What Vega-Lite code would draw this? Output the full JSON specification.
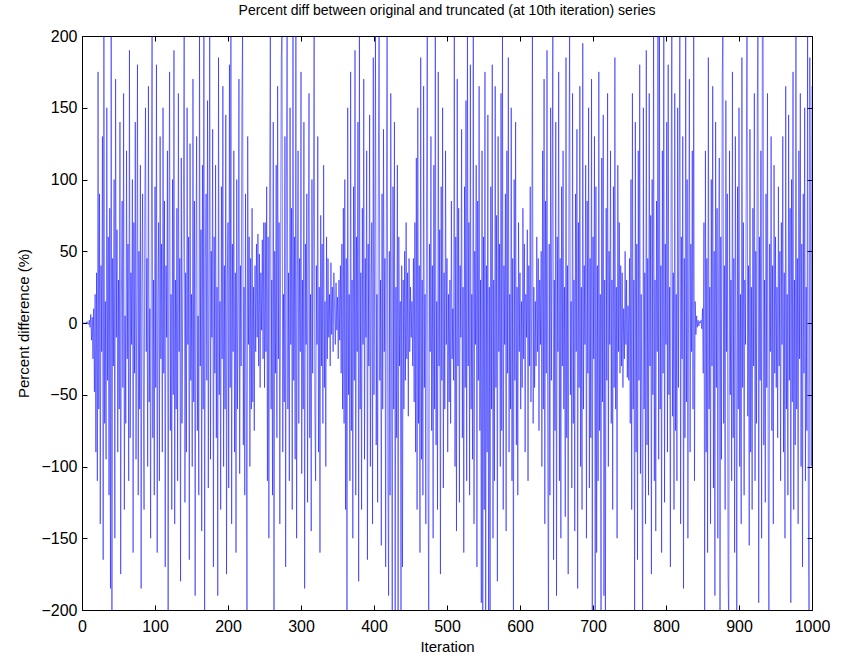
{
  "$schema": "https://vega.github.io/schema/vega-lite/v6.json",
  "width": 730,
  "height": 574,
  "autosize": {"type": "none"},
  "padding": {"left": 82, "top": 36, "right": 36, "bottom": 48},
  "background": "white",
  "config": {
    "font": "Liberation Sans",
    "view": {"stroke": "#000000", "strokeWidth": 1},
    "axis": {"grid": false, "domain": false, "tickColor": "#000000", "tickSize": -5, "labelColor": "#000000", "titleColor": "#000000", "labelFont": "Liberation Sans", "titleFont": "Liberation Sans", "labelFontSize": 16, "titleFontSize": 15, "titleFontWeight": "normal"}
  },
  "title": {"text": "Percent diff between original and truncated (at 10th iteration) series", "fontSize": 14, "fontWeight": "normal", "font": "Liberation Sans", "color": "#000000", "offset": 10},
  "data": {"values": [
{"x":0,"y":0},{"x":1,"y":0},{"x":2,"y":0},{"x":3,"y":0},{"x":4,"y":0},{"x":5,"y":0},{"x":6,"y":0},{"x":7,"y":1},{"x":8,"y":0},{"x":9,"y":-1},
{"x":10,"y":2},{"x":11,"y":-3},{"x":12,"y":6},{"x":13,"y":-12},{"x":14,"y":4},{"x":15,"y":-25},{"x":16,"y":10},{"x":17,"y":-48},{"x":18,"y":20},{"x":19,"y":-90},
{"x":20,"y":35},{"x":21,"y":-110},{"x":22,"y":175},{"x":23,"y":-60},{"x":24,"y":90},{"x":25,"y":-140},{"x":26,"y":40},{"x":27,"y":-20},{"x":28,"y":130},{"x":29,"y":-165},
{"x":30,"y":200},{"x":31,"y":-70},{"x":32,"y":15},{"x":33,"y":-95},{"x":34,"y":150},{"x":35,"y":-40},{"x":36,"y":60},{"x":37,"y":-120},{"x":38,"y":80},{"x":39,"y":-185},
{"x":40,"y":210},{"x":41,"y":-200},{"x":42,"y":45},{"x":43,"y":-30},{"x":44,"y":100},{"x":45,"y":-150},{"x":46,"y":170},{"x":47,"y":-10},{"x":48,"y":65},{"x":49,"y":-90},
{"x":50,"y":30},{"x":51,"y":-60},{"x":52,"y":140},{"x":53,"y":-175},{"x":54,"y":20},{"x":55,"y":85},{"x":56,"y":-45},{"x":57,"y":160},{"x":58,"y":-130},{"x":59,"y":5},
{"x":60,"y":-70},{"x":61,"y":120},{"x":62,"y":-25},{"x":63,"y":55},{"x":64,"y":-110},{"x":65,"y":190},{"x":66,"y":-80},{"x":67,"y":35},{"x":68,"y":-15},{"x":69,"y":100},
{"x":70,"y":-160},{"x":71,"y":70},{"x":72,"y":-35},{"x":73,"y":140},{"x":74,"y":-95},{"x":75,"y":20},{"x":76,"y":180},{"x":77,"y":-120},{"x":78,"y":50},{"x":79,"y":-60},
{"x":80,"y":110},{"x":81,"y":-185},{"x":82,"y":25},{"x":83,"y":90},{"x":84,"y":-40},{"x":85,"y":-130},{"x":86,"y":75},{"x":87,"y":150},{"x":88,"y":-20},{"x":89,"y":45},
{"x":90,"y":-100},{"x":91,"y":165},{"x":92,"y":-55},{"x":93,"y":10},{"x":94,"y":-150},{"x":95,"y":60},{"x":96,"y":210},{"x":97,"y":-80},{"x":98,"y":30},{"x":99,"y":-120},
{"x":100,"y":95},{"x":101,"y":-45},{"x":102,"y":180},{"x":103,"y":-160},{"x":104,"y":15},{"x":105,"y":70},{"x":106,"y":-110},{"x":107,"y":130},{"x":108,"y":-25},{"x":109,"y":55},
{"x":110,"y":-90},{"x":111,"y":150},{"x":112,"y":-35},{"x":113,"y":85},{"x":114,"y":-170},{"x":115,"y":40},{"x":116,"y":-10},{"x":117,"y":120},{"x":118,"y":-205},{"x":119,"y":60},
{"x":120,"y":175},{"x":121,"y":-75},{"x":122,"y":20},{"x":123,"y":-130},{"x":124,"y":100},{"x":125,"y":-50},{"x":126,"y":190},{"x":127,"y":-140},{"x":128,"y":30},{"x":129,"y":-60},
{"x":130,"y":80},{"x":131,"y":-110},{"x":132,"y":160},{"x":133,"y":-20},{"x":134,"y":45},{"x":135,"y":-180},{"x":136,"y":115},{"x":137,"y":-70},{"x":138,"y":10},{"x":139,"y":95},
{"x":140,"y":215},{"x":141,"y":-125},{"x":142,"y":35},{"x":143,"y":-90},{"x":144,"y":150},{"x":145,"y":-15},{"x":146,"y":60},{"x":147,"y":-165},{"x":148,"y":125},{"x":149,"y":-40},
{"x":150,"y":20},{"x":151,"y":-100},{"x":152,"y":170},{"x":153,"y":-55},{"x":154,"y":85},{"x":155,"y":-190},{"x":156,"y":40},{"x":157,"y":130},{"x":158,"y":-75},{"x":159,"y":5},
{"x":160,"y":-120},{"x":161,"y":205},{"x":162,"y":-30},{"x":163,"y":65},{"x":164,"y":-145},{"x":165,"y":110},{"x":166,"y":-60},{"x":167,"y":210},{"x":168,"y":-200},{"x":169,"y":45},
{"x":170,"y":90},{"x":171,"y":-40},{"x":172,"y":155},{"x":173,"y":-115},{"x":174,"y":25},{"x":175,"y":220},{"x":176,"y":-95},{"x":177,"y":50},{"x":178,"y":-10},{"x":179,"y":135},
{"x":180,"y":-170},{"x":181,"y":60},{"x":182,"y":-35},{"x":183,"y":110},{"x":184,"y":-80},{"x":185,"y":25},{"x":186,"y":-190},{"x":187,"y":185},{"x":188,"y":-50},{"x":189,"y":15},
{"x":190,"y":-130},{"x":191,"y":95},{"x":192,"y":-25},{"x":193,"y":165},{"x":194,"y":-100},{"x":195,"y":40},{"x":196,"y":-60},{"x":197,"y":145},{"x":198,"y":-175},{"x":199,"y":30},
{"x":200,"y":70},{"x":201,"y":-115},{"x":202,"y":180},{"x":203,"y":-45},{"x":204,"y":210},{"x":205,"y":-140},{"x":206,"y":55},{"x":207,"y":-20},{"x":208,"y":120},{"x":209,"y":-90},
{"x":210,"y":35},{"x":211,"y":-160},{"x":212,"y":100},{"x":213,"y":-60},{"x":214,"y":15},{"x":215,"y":170},{"x":216,"y":-105},{"x":217,"y":40},{"x":218,"y":-30},{"x":219,"y":150},
{"x":220,"y":205},{"x":221,"y":-85},{"x":222,"y":25},{"x":223,"y":-120},{"x":224,"y":90},{"x":225,"y":-45},{"x":226,"y":-210},{"x":227,"y":130},{"x":228,"y":-15},{"x":229,"y":60},
{"x":230,"y":-100},{"x":231,"y":45},{"x":232,"y":-60},{"x":233,"y":80},{"x":234,"y":-55},{"x":235,"y":25},{"x":236,"y":-75},{"x":237,"y":40},{"x":238,"y":-20},{"x":239,"y":55},
{"x":240,"y":-10},{"x":241,"y":62},{"x":242,"y":-30},{"x":243,"y":48},{"x":244,"y":-45},{"x":245,"y":35},{"x":246,"y":-5},{"x":247,"y":58},{"x":248,"y":-25},{"x":249,"y":70},
{"x":250,"y":-45},{"x":251,"y":70},{"x":252,"y":-20},{"x":253,"y":95},{"x":254,"y":-110},{"x":255,"y":60},{"x":256,"y":-150},{"x":257,"y":85},{"x":258,"y":210},{"x":259,"y":-60},
{"x":260,"y":30},{"x":261,"y":-120},{"x":262,"y":140},{"x":263,"y":-215},{"x":264,"y":50},{"x":265,"y":-35},{"x":266,"y":110},{"x":267,"y":-80},{"x":268,"y":165},{"x":269,"y":-25},
{"x":270,"y":70},{"x":271,"y":-140},{"x":272,"y":40},{"x":273,"y":185},{"x":274,"y":205},{"x":275,"y":-90},{"x":276,"y":20},{"x":277,"y":-55},{"x":278,"y":130},{"x":279,"y":-170},
{"x":280,"y":95},{"x":281,"y":215},{"x":282,"y":-60},{"x":283,"y":35},{"x":284,"y":-110},{"x":285,"y":150},{"x":286,"y":-15},{"x":287,"y":80},{"x":288,"y":-130},{"x":289,"y":225},
{"x":290,"y":-40},{"x":291,"y":60},{"x":292,"y":-95},{"x":293,"y":210},{"x":294,"y":-150},{"x":295,"y":25},{"x":296,"y":120},{"x":297,"y":-70},{"x":298,"y":45},{"x":299,"y":-20},
{"x":300,"y":175},{"x":301,"y":-105},{"x":302,"y":30},{"x":303,"y":-60},{"x":304,"y":140},{"x":305,"y":-185},{"x":306,"y":55},{"x":307,"y":-15},{"x":308,"y":90},{"x":309,"y":-125},
{"x":310,"y":45},{"x":311,"y":160},{"x":312,"y":-80},{"x":313,"y":20},{"x":314,"y":-145},{"x":315,"y":100},{"x":316,"y":-35},{"x":317,"y":70},{"x":318,"y":205},{"x":319,"y":-60},
{"x":320,"y":-110},{"x":321,"y":40},{"x":322,"y":-15},{"x":323,"y":130},{"x":324,"y":-90},{"x":325,"y":25},{"x":326,"y":-160},{"x":327,"y":75},{"x":328,"y":-30},{"x":329,"y":55},
{"x":330,"y":-70},{"x":331,"y":110},{"x":332,"y":-45},{"x":333,"y":15},{"x":334,"y":-100},{"x":335,"y":60},{"x":336,"y":-25},{"x":337,"y":45},{"x":338,"y":-10},{"x":339,"y":20},
{"x":340,"y":-30},{"x":341,"y":42},{"x":342,"y":-8},{"x":343,"y":25},{"x":344,"y":-20},{"x":345,"y":35},{"x":346,"y":10},{"x":347,"y":-15},{"x":348,"y":28},{"x":349,"y":-5},
{"x":350,"y":18},{"x":351,"y":-25},{"x":352,"y":30},{"x":353,"y":-12},{"x":354,"y":40},{"x":355,"y":-35},{"x":356,"y":55},{"x":357,"y":-60},{"x":358,"y":80},{"x":359,"y":-70},
{"x":360,"y":100},{"x":361,"y":-130},{"x":362,"y":45},{"x":363,"y":-220},{"x":364,"y":150},{"x":365,"y":-50},{"x":366,"y":20},{"x":367,"y":-110},{"x":368,"y":175},{"x":369,"y":-75},
{"x":370,"y":30},{"x":371,"y":-150},{"x":372,"y":95},{"x":373,"y":-40},{"x":374,"y":190},{"x":375,"y":-120},{"x":376,"y":60},{"x":377,"y":-20},{"x":378,"y":140},{"x":379,"y":-180},
{"x":380,"y":210},{"x":381,"y":-60},{"x":382,"y":35},{"x":383,"y":-130},{"x":384,"y":80},{"x":385,"y":-15},{"x":386,"y":170},{"x":387,"y":-95},{"x":388,"y":45},{"x":389,"y":-10},
{"x":390,"y":120},{"x":391,"y":-165},{"x":392,"y":55},{"x":393,"y":-30},{"x":394,"y":145},{"x":395,"y":-100},{"x":396,"y":25},{"x":397,"y":70},{"x":398,"y":-140},{"x":399,"y":185},
{"x":400,"y":-50},{"x":401,"y":60},{"x":402,"y":205},{"x":403,"y":-85},{"x":404,"y":20},{"x":405,"y":-125},{"x":406,"y":110},{"x":407,"y":215},{"x":408,"y":-40},{"x":409,"y":30},
{"x":410,"y":-155},{"x":411,"y":90},{"x":412,"y":-60},{"x":413,"y":135},{"x":414,"y":-20},{"x":415,"y":45},{"x":416,"y":-170},{"x":417,"y":80},{"x":418,"y":220},{"x":419,"y":-105},
{"x":420,"y":-190},{"x":421,"y":50},{"x":422,"y":-120},{"x":423,"y":160},{"x":424,"y":-35},{"x":425,"y":-215},{"x":426,"y":95},{"x":427,"y":-60},{"x":428,"y":140},{"x":429,"y":-205},
{"x":430,"y":25},{"x":431,"y":-80},{"x":432,"y":110},{"x":433,"y":-200},{"x":434,"y":60},{"x":435,"y":-30},{"x":436,"y":15},{"x":437,"y":-210},{"x":438,"y":40},{"x":439,"y":-170},
{"x":440,"y":30},{"x":441,"y":-60},{"x":442,"y":50},{"x":443,"y":-40},{"x":444,"y":70},{"x":445,"y":-25},{"x":446,"y":35},{"x":447,"y":-65},{"x":448,"y":45},{"x":449,"y":-20},
{"x":450,"y":25},{"x":451,"y":-10},{"x":452,"y":15},{"x":453,"y":-30},{"x":454,"y":45},{"x":455,"y":-55},{"x":456,"y":70},{"x":457,"y":-90},{"x":458,"y":115},{"x":459,"y":-130},
{"x":460,"y":150},{"x":461,"y":-70},{"x":462,"y":40},{"x":463,"y":-160},{"x":464,"y":185},{"x":465,"y":-95},{"x":466,"y":30},{"x":467,"y":-120},{"x":468,"y":165},{"x":469,"y":-45},
{"x":470,"y":20},{"x":471,"y":-140},{"x":472,"y":90},{"x":473,"y":215},{"x":474,"y":-110},{"x":475,"y":-205},{"x":476,"y":55},{"x":477,"y":-20},{"x":478,"y":130},{"x":479,"y":-75},
{"x":480,"y":40},{"x":481,"y":-150},{"x":482,"y":110},{"x":483,"y":-60},{"x":484,"y":225},{"x":485,"y":-85},{"x":486,"y":15},{"x":487,"y":-130},{"x":488,"y":175},{"x":489,"y":-30},
{"x":490,"y":65},{"x":491,"y":-175},{"x":492,"y":95},{"x":493,"y":-40},{"x":494,"y":150},{"x":495,"y":-115},{"x":496,"y":35},{"x":497,"y":-60},{"x":498,"y":120},{"x":499,"y":-15},
{"x":500,"y":45},{"x":501,"y":-90},{"x":502,"y":20},{"x":503,"y":-55},{"x":504,"y":30},{"x":505,"y":-70},{"x":506,"y":85},{"x":507,"y":-25},{"x":508,"y":10},{"x":509,"y":-40},
{"x":510,"y":210},{"x":511,"y":-100},{"x":512,"y":60},{"x":513,"y":-145},{"x":514,"y":170},{"x":515,"y":-30},{"x":516,"y":80},{"x":517,"y":-125},{"x":518,"y":40},{"x":519,"y":-10},
{"x":520,"y":135},{"x":521,"y":-80},{"x":522,"y":25},{"x":523,"y":-160},{"x":524,"y":95},{"x":525,"y":-45},{"x":526,"y":155},{"x":527,"y":-110},{"x":528,"y":205},{"x":529,"y":-30},
{"x":530,"y":70},{"x":531,"y":-120},{"x":532,"y":180},{"x":533,"y":-60},{"x":534,"y":20},{"x":535,"y":-95},{"x":536,"y":215},{"x":537,"y":-140},{"x":538,"y":50},{"x":539,"y":-15},
{"x":540,"y":110},{"x":541,"y":-170},{"x":542,"y":85},{"x":543,"y":-40},{"x":544,"y":165},{"x":545,"y":-75},{"x":546,"y":30},{"x":547,"y":-195},{"x":548,"y":120},{"x":549,"y":-205},
{"x":550,"y":60},{"x":551,"y":-130},{"x":552,"y":175},{"x":553,"y":-210},{"x":554,"y":40},{"x":555,"y":-90},{"x":556,"y":145},{"x":557,"y":-200},{"x":558,"y":25},{"x":559,"y":-220},
{"x":560,"y":95},{"x":561,"y":-60},{"x":562,"y":180},{"x":563,"y":-150},{"x":564,"y":30},{"x":565,"y":-110},{"x":566,"y":165},{"x":567,"y":-45},{"x":568,"y":75},{"x":569,"y":-180},
{"x":570,"y":130},{"x":571,"y":-20},{"x":572,"y":55},{"x":573,"y":-100},{"x":574,"y":160},{"x":575,"y":-75},{"x":576,"y":215},{"x":577,"y":-130},{"x":578,"y":40},{"x":579,"y":-15},
{"x":580,"y":90},{"x":581,"y":-145},{"x":582,"y":120},{"x":583,"y":-35},{"x":584,"y":185},{"x":585,"y":-90},{"x":586,"y":20},{"x":587,"y":-60},{"x":588,"y":150},{"x":589,"y":-110},
{"x":590,"y":45},{"x":591,"y":-205},{"x":592,"y":100},{"x":593,"y":-40},{"x":594,"y":140},{"x":595,"y":-85},{"x":596,"y":25},{"x":597,"y":-120},{"x":598,"y":70},{"x":599,"y":-20},
{"x":600,"y":35},{"x":601,"y":-60},{"x":602,"y":15},{"x":603,"y":-45},{"x":604,"y":80},{"x":605,"y":-25},{"x":606,"y":55},{"x":607,"y":-90},{"x":608,"y":20},{"x":609,"y":-10},
{"x":610,"y":65},{"x":611,"y":-110},{"x":612,"y":40},{"x":613,"y":-30},{"x":614,"y":95},{"x":615,"y":-55},{"x":616,"y":10},{"x":617,"y":215},{"x":618,"y":-70},{"x":619,"y":25},
{"x":620,"y":-45},{"x":621,"y":15},{"x":622,"y":-30},{"x":623,"y":60},{"x":624,"y":-20},{"x":625,"y":45},{"x":626,"y":-75},{"x":627,"y":30},{"x":628,"y":-15},{"x":629,"y":50},
{"x":630,"y":-100},{"x":631,"y":120},{"x":632,"y":-60},{"x":633,"y":170},{"x":634,"y":-140},{"x":635,"y":85},{"x":636,"y":-35},{"x":637,"y":190},{"x":638,"y":-90},{"x":639,"y":-215},
{"x":640,"y":55},{"x":641,"y":-120},{"x":642,"y":150},{"x":643,"y":-40},{"x":644,"y":80},{"x":645,"y":205},{"x":646,"y":-165},{"x":647,"y":30},{"x":648,"y":-75},{"x":649,"y":140},
{"x":650,"y":-190},{"x":651,"y":60},{"x":652,"y":-20},{"x":653,"y":175},{"x":654,"y":-110},{"x":655,"y":45},{"x":656,"y":-150},{"x":657,"y":95},{"x":658,"y":-30},{"x":659,"y":120},
{"x":660,"y":-60},{"x":661,"y":25},{"x":662,"y":-135},{"x":663,"y":185},{"x":664,"y":-80},{"x":665,"y":40},{"x":666,"y":-175},{"x":667,"y":100},{"x":668,"y":210},{"x":669,"y":-50},
{"x":670,"y":15},{"x":671,"y":-115},{"x":672,"y":160},{"x":673,"y":-70},{"x":674,"y":30},{"x":675,"y":-145},{"x":676,"y":90},{"x":677,"y":-20},{"x":678,"y":135},{"x":679,"y":-185},
{"x":680,"y":70},{"x":681,"y":-45},{"x":682,"y":165},{"x":683,"y":-100},{"x":684,"y":25},{"x":685,"y":-130},{"x":686,"y":195},{"x":687,"y":-60},{"x":688,"y":40},{"x":689,"y":-15},
{"x":690,"y":110},{"x":691,"y":-150},{"x":692,"y":85},{"x":693,"y":-35},{"x":694,"y":150},{"x":695,"y":-115},{"x":696,"y":45},{"x":697,"y":-80},{"x":698,"y":170},{"x":699,"y":-200},
{"x":700,"y":60},{"x":701,"y":-25},{"x":702,"y":130},{"x":703,"y":-210},{"x":704,"y":95},{"x":705,"y":-160},{"x":706,"y":40},{"x":707,"y":-110},{"x":708,"y":175},{"x":709,"y":-75},
{"x":710,"y":20},{"x":711,"y":-205},{"x":712,"y":115},{"x":713,"y":-55},{"x":714,"y":145},{"x":715,"y":-190},{"x":716,"y":30},{"x":717,"y":-215},{"x":718,"y":80},{"x":719,"y":-40},
{"x":720,"y":160},{"x":721,"y":-100},{"x":722,"y":50},{"x":723,"y":-15},{"x":724,"y":120},{"x":725,"y":-70},{"x":726,"y":30},{"x":727,"y":-130},{"x":728,"y":95},{"x":729,"y":-45},
{"x":730,"y":185},{"x":731,"y":-60},{"x":732,"y":25},{"x":733,"y":-150},{"x":734,"y":110},{"x":735,"y":-20},{"x":736,"y":70},{"x":737,"y":-35},{"x":738,"y":40},{"x":739,"y":-30},
{"x":740,"y":35},{"x":741,"y":-45},{"x":742,"y":10},{"x":743,"y":-25},{"x":744,"y":50},{"x":745,"y":-15},{"x":746,"y":30},{"x":747,"y":-38},{"x":748,"y":12},{"x":749,"y":-40},
{"x":750,"y":45},{"x":751,"y":-70},{"x":752,"y":100},{"x":753,"y":-130},{"x":754,"y":160},{"x":755,"y":-60},{"x":756,"y":30},{"x":757,"y":-215},{"x":758,"y":140},{"x":759,"y":-90},
{"x":760,"y":55},{"x":761,"y":-165},{"x":762,"y":120},{"x":763,"y":-40},{"x":764,"y":180},{"x":765,"y":-105},{"x":766,"y":20},{"x":767,"y":-75},{"x":768,"y":-220},{"x":769,"y":150},
{"x":770,"y":-60},{"x":771,"y":35},{"x":772,"y":-140},{"x":773,"y":190},{"x":774,"y":-85},{"x":775,"y":45},{"x":776,"y":-120},{"x":777,"y":160},{"x":778,"y":-30},{"x":779,"y":75},
{"x":780,"y":-175},{"x":781,"y":100},{"x":782,"y":-50},{"x":783,"y":220},{"x":784,"y":-110},{"x":785,"y":30},{"x":786,"y":-145},{"x":787,"y":85},{"x":788,"y":-20},{"x":789,"y":210},
{"x":790,"y":-95},{"x":791,"y":205},{"x":792,"y":-60},{"x":793,"y":40},{"x":794,"y":-160},{"x":795,"y":120},{"x":796,"y":-35},{"x":797,"y":215},{"x":798,"y":-125},{"x":799,"y":55},
{"x":800,"y":-15},{"x":801,"y":140},{"x":802,"y":-90},{"x":803,"y":180},{"x":804,"y":-50},{"x":805,"y":25},{"x":806,"y":-170},{"x":807,"y":95},{"x":808,"y":215},{"x":809,"y":-65},
{"x":810,"y":35},{"x":811,"y":-130},{"x":812,"y":160},{"x":813,"y":-75},{"x":814,"y":20},{"x":815,"y":-110},{"x":816,"y":150},{"x":817,"y":-45},{"x":818,"y":90},{"x":819,"y":215},
{"x":820,"y":-140},{"x":821,"y":60},{"x":822,"y":-25},{"x":823,"y":130},{"x":824,"y":-185},{"x":825,"y":45},{"x":826,"y":-80},{"x":827,"y":210},{"x":828,"y":-55},{"x":829,"y":100},
{"x":830,"y":-150},{"x":831,"y":30},{"x":832,"y":170},{"x":833,"y":-90},{"x":834,"y":55},{"x":835,"y":-20},{"x":836,"y":120},{"x":837,"y":-60},{"x":838,"y":205},{"x":839,"y":-110},
{"x":840,"y":15},{"x":841,"y":-8},{"x":842,"y":5},{"x":843,"y":-3},{"x":844,"y":2},{"x":845,"y":-2},{"x":846,"y":1},{"x":847,"y":0},{"x":848,"y":2},{"x":849,"y":-4},
{"x":850,"y":10},{"x":851,"y":-35},{"x":852,"y":70},{"x":853,"y":-205},{"x":854,"y":120},{"x":855,"y":-90},{"x":856,"y":45},{"x":857,"y":-160},{"x":858,"y":185},{"x":859,"y":-60},
{"x":860,"y":25},{"x":861,"y":-140},{"x":862,"y":100},{"x":863,"y":-30},{"x":864,"y":165},{"x":865,"y":-115},{"x":866,"y":50},{"x":867,"y":-190},{"x":868,"y":140},{"x":869,"y":-45},
{"x":870,"y":80},{"x":871,"y":-150},{"x":872,"y":30},{"x":873,"y":115},{"x":874,"y":-210},{"x":875,"y":60},{"x":876,"y":-95},{"x":877,"y":170},{"x":878,"y":210},{"x":879,"y":-70},
{"x":880,"y":40},{"x":881,"y":-130},{"x":882,"y":155},{"x":883,"y":-20},{"x":884,"y":90},{"x":885,"y":-175},{"x":886,"y":-215},{"x":887,"y":120},{"x":888,"y":-50},{"x":889,"y":30},
{"x":890,"y":-110},{"x":891,"y":175},{"x":892,"y":-80},{"x":893,"y":45},{"x":894,"y":-160},{"x":895,"y":130},{"x":896,"y":-35},{"x":897,"y":-205},{"x":898,"y":95},{"x":899,"y":-60},
{"x":900,"y":150},{"x":901,"y":-100},{"x":902,"y":20},{"x":903,"y":-140},{"x":904,"y":185},{"x":905,"y":-45},{"x":906,"y":70},{"x":907,"y":-120},{"x":908,"y":30},{"x":909,"y":-15},
{"x":910,"y":110},{"x":911,"y":220},{"x":912,"y":-65},{"x":913,"y":40},{"x":914,"y":-155},{"x":915,"y":135},{"x":916,"y":-90},{"x":917,"y":25},{"x":918,"y":-130},{"x":919,"y":80},
{"x":920,"y":-30},{"x":921,"y":160},{"x":922,"y":-110},{"x":923,"y":50},{"x":924,"y":-70},{"x":925,"y":145},{"x":926,"y":215},{"x":927,"y":-195},{"x":928,"y":60},{"x":929,"y":-40},
{"x":930,"y":120},{"x":931,"y":-150},{"x":932,"y":205},{"x":933,"y":225},{"x":934,"y":-85},{"x":935,"y":30},{"x":936,"y":-125},{"x":937,"y":90},{"x":938,"y":-45},{"x":939,"y":160},
{"x":940,"y":-100},{"x":941,"y":-215},{"x":942,"y":55},{"x":943,"y":-20},{"x":944,"y":130},{"x":945,"y":-75},{"x":946,"y":40},{"x":947,"y":-140},{"x":948,"y":110},{"x":949,"y":-35},
{"x":950,"y":60},{"x":951,"y":-45},{"x":952,"y":25},{"x":953,"y":-80},{"x":954,"y":95},{"x":955,"y":-30},{"x":956,"y":50},{"x":957,"y":-110},{"x":958,"y":70},{"x":959,"y":-15},
{"x":960,"y":130},{"x":961,"y":-90},{"x":962,"y":35},{"x":963,"y":-150},{"x":964,"y":165},{"x":965,"y":-60},{"x":966,"y":20},{"x":967,"y":-120},{"x":968,"y":145},{"x":969,"y":-40},
{"x":970,"y":80},{"x":971,"y":-195},{"x":972,"y":100},{"x":973,"y":-55},{"x":974,"y":175},{"x":975,"y":-130},{"x":976,"y":30},{"x":977,"y":-85},{"x":978,"y":215},{"x":979,"y":-60},
{"x":980,"y":45},{"x":981,"y":-140},{"x":982,"y":120},{"x":983,"y":-25},{"x":984,"y":160},{"x":985,"y":-100},{"x":986,"y":55},{"x":987,"y":-170},{"x":988,"y":90},{"x":989,"y":-35},
{"x":990,"y":150},{"x":991,"y":-110},{"x":992,"y":25},{"x":993,"y":-75},{"x":994,"y":200},{"x":995,"y":-130},{"x":996,"y":-210},{"x":997,"y":185},{"x":998,"y":60},{"x":999,"y":-100},
{"x":1000,"y":165}
  ]},
  "layer": [
    {
      "mark": {"type": "line", "color": "#0000ff", "strokeWidth": 0.5, "clip": true},
      "encoding": {
        "x": {"field": "x", "type": "quantitative", "scale": {"domain": [0, 1000], "nice": false, "zero": false},
              "axis": {"orient": "bottom", "title": "Iteration", "format": "d", "values": [0,100,200,300,400,500,600,700,800,900,1000], "labelPadding": 13, "titlePadding": 5, "labelFlush": false}},
        "y": {"field": "y", "type": "quantitative", "scale": {"domain": [-200, 200], "nice": false, "zero": false},
              "axis": {"orient": "left", "title": "Percent difference (%)", "format": "d", "values": [-200,-150,-100,-50,0,50,100,150,200], "labelPadding": 10, "titlePadding": 9, "labelFlush": false}}
      }
    },
    {
      "mark": {"type": "line", "strokeOpacity": 0, "clip": true},
      "encoding": {
        "x": {"field": "x", "type": "quantitative", "scale": {"domain": [0, 1000], "nice": false, "zero": false},
              "axis": {"orient": "top", "title": null, "labels": false, "values": [0,100,200,300,400,500,600,700,800,900,1000]}},
        "y": {"field": "y", "type": "quantitative", "scale": {"domain": [-200, 200], "nice": false, "zero": false},
              "axis": {"orient": "right", "title": null, "labels": false, "values": [-200,-150,-100,-50,0,50,100,150,200]}}
      }
    }
  ],
  "resolve": {"axis": {"x": "independent", "y": "independent"}}
}
